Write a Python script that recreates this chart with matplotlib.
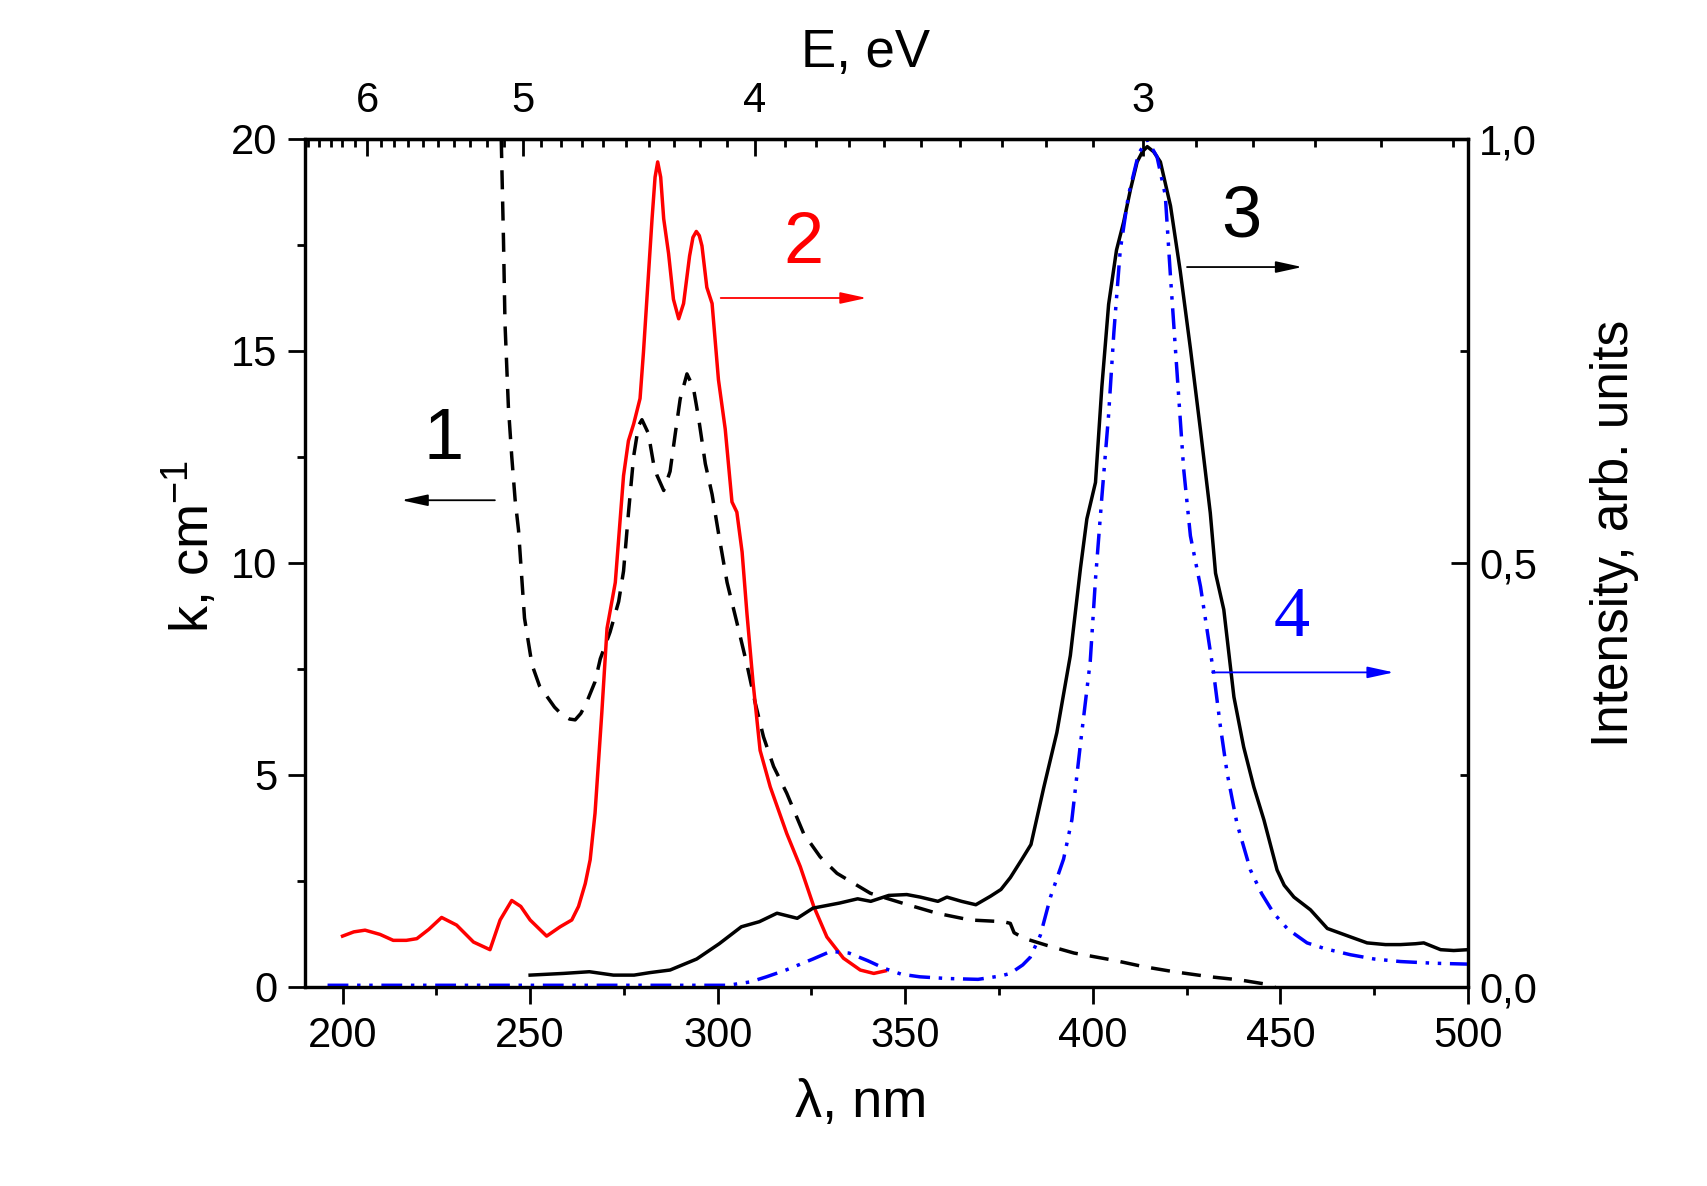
import numpy as np
import matplotlib
matplotlib.use('Agg')
import matplotlib.pyplot as plt
from matplotlib.ticker import MultipleLocator, FuncFormatter

plt.rcParams['font.family'] = ['Liberation Sans', 'DejaVu Sans']
plt.rcParams['mathtext.fontset'] = 'custom'
plt.rcParams['mathtext.rm'] = 'Liberation Sans'
plt.rcParams['mathtext.it'] = 'Liberation Sans:italic'

# 1 - absorption coefficient k (left axis), dashed
wl1 = [242.3, 242.9, 243.3, 244.2, 245.1, 246.0, 246.9, 248.5, 250.5, 252.5,
       254.5, 256.5, 258.5, 260.5, 262.0, 263.5, 265.0, 267.3, 268.7, 271.3,
       273.6, 274.9, 276.2, 277.6, 278.9, 279.8, 281.5, 282.9, 283.8, 285.6,
       287.3, 288.7, 290.0, 291.8, 293.5, 294.9, 296.7, 298.5, 300.2, 302.5,
       305.1, 307.8, 310.0, 312.2, 314.9, 318.4, 322.9, 327.3, 331.8, 340.7,
       349.5, 358.4, 367.3, 376.2, 378.0, 379.0, 381.6, 387.8, 395.0, 405.6,
       413.5, 421.6, 431.3, 439.3, 447.3, 448.5]
k1 = [20.0, 17.6, 15.65, 13.69, 12.51, 11.49, 10.78, 8.7, 7.6, 7.1,
      6.85, 6.6, 6.42, 6.32, 6.30, 6.45, 6.7, 7.2, 7.74, 8.37,
      9.09, 9.81, 11.17, 12.52, 13.24, 13.38, 13.06, 12.34, 12.07, 11.71,
      12.16, 13.06, 13.87, 14.46, 14.14, 13.42, 12.34, 11.62, 10.71, 9.54,
      8.6, 7.6, 6.7, 5.9, 5.2, 4.57, 3.62, 3.07, 2.68, 2.21,
      1.97, 1.74, 1.58, 1.54, 1.50, 1.28, 1.15, 0.98, 0.80, 0.63,
      0.48, 0.36, 0.24, 0.165, 0.05, 0.0]

# 2 - red, intensity (right axis)
wl2 = [200, 203, 206, 210, 213.5, 217, 219.8, 223, 226.4, 230.4,
       234.9, 239.3, 242, 245.1, 247.5, 250, 254.4, 258, 261.1, 262.9,
       264.7, 266, 267.3, 268.2, 269.1, 270.5, 272.7, 274.9, 276.2, 277.6,
       279.3, 280.2, 282.5, 283.3, 284.0, 284.8, 285.6, 286.9, 288.2, 289.6,
       290.9, 292.5, 293.4, 294.3, 295.1, 295.8, 297.1, 298.5, 300.2, 302.0,
       303.8, 305.1, 306.5, 307.8, 309.4, 311.3, 314, 318.4, 322, 325.6,
       329.1, 333.5, 338, 341.6, 344.7]
i2 = [0.060, 0.065, 0.067, 0.062, 0.055, 0.055, 0.057, 0.068, 0.082, 0.073,
      0.053, 0.044, 0.079, 0.102, 0.095, 0.079, 0.060, 0.071, 0.079, 0.095,
      0.122, 0.150, 0.205, 0.264, 0.323, 0.423, 0.477, 0.603, 0.644, 0.664,
      0.694, 0.748, 0.906, 0.955, 0.973, 0.955, 0.906, 0.865, 0.811, 0.788,
      0.806, 0.862, 0.884, 0.891, 0.886, 0.874, 0.825, 0.806, 0.716, 0.658,
      0.572, 0.560, 0.513, 0.440, 0.360, 0.279, 0.236, 0.181, 0.142, 0.095,
      0.059, 0.034, 0.020, 0.016, 0.019]

# 3 - black solid, intensity
wl3 = [250, 258.9, 265.8, 272.2, 277.7, 282, 287.3, 294.4, 300.4, 306.3,
       311.1, 315.8, 321.2, 325.4, 332.5, 337.3, 340.8, 345.6, 350.4, 354,
       358.7, 361.1, 365, 368.8, 372.7, 375.5, 378, 381, 383.5, 386.9,
       390.4, 394, 396.7, 398.4, 400.7, 402.4, 404.2, 406.3, 408.2, 410,
       411.8, 413.2, 414.5, 416.2, 418, 420.7, 423.3, 426, 428.7, 431.3,
       432.7, 434.9, 437.6, 440.2, 442.9, 445.6, 449.1, 451, 453.6, 458,
       462.5, 468.7, 473.1, 478, 482, 486, 488.2, 492.7, 496.2, 500]
i3 = [0.014, 0.016, 0.018, 0.014, 0.014, 0.017, 0.020, 0.033, 0.051, 0.071,
      0.077, 0.087, 0.081, 0.093, 0.099, 0.104, 0.101, 0.108, 0.109, 0.106,
      0.101, 0.106, 0.101, 0.097, 0.107, 0.115, 0.129, 0.150, 0.168, 0.235,
      0.300, 0.391, 0.494, 0.552, 0.595, 0.708, 0.805, 0.869, 0.902, 0.940,
      0.973, 0.985, 0.991, 0.985, 0.973, 0.921, 0.844, 0.753, 0.656, 0.559,
      0.488, 0.445, 0.342, 0.283, 0.236, 0.197, 0.138, 0.120, 0.106, 0.091,
      0.069, 0.059, 0.052, 0.050, 0.050, 0.051, 0.052, 0.044, 0.043, 0.044]

# 4 - blue dash-dot, intensity
wl4 = [196, 220, 242, 270, 302.7, 308.7, 313, 318.2, 325.4, 330.1,
       335, 340, 344.4, 349, 353.9, 361.1, 369.4, 375.4, 378, 381.3,
       383.3, 386, 388.7, 392.2, 394.4, 396.7, 399.3, 400.7, 402.4, 404.2,
       405.6, 407.3, 409.5, 412.2, 414.5, 417.1, 419.3, 420.7, 422.4, 424.2,
       426, 428.7, 431.3, 432.2, 434, 435.8, 438.4, 442, 445, 448.2,
       452, 457.1, 462, 468.7, 475, 482, 490.9, 499.8]
i4 = [0.002, 0.002, 0.002, 0.002, 0.002, 0.006, 0.012, 0.020, 0.033, 0.042,
      0.040, 0.031, 0.022, 0.015, 0.012, 0.010, 0.009, 0.013, 0.016, 0.026,
      0.035, 0.061, 0.106, 0.151, 0.197, 0.287, 0.384, 0.481, 0.578, 0.675,
      0.772, 0.869, 0.934, 0.983, 0.999, 0.979, 0.934, 0.837, 0.727, 0.611,
      0.532, 0.472, 0.396, 0.370, 0.307, 0.252, 0.193, 0.138, 0.110, 0.087,
      0.068, 0.052, 0.045, 0.038, 0.033, 0.030, 0.028, 0.027]

ev_ticks = [3, 4, 5, 6]

fig = plt.figure(figsize=(17.07, 11.86), dpi=100)
ax = fig.add_axes([0.1787, 0.1678, 0.6813, 0.715])
ax.plot(wl1, k1, color='black', lw=2.5, dashes=(5.5, 3.5))
ax.set_xlim(190, 500)
ax.set_ylim(0, 20)

ax2 = ax.twinx()
ax2.plot(wl2, i2, color='red', lw=2.5)
ax2.plot(wl3, i3, color='black', lw=2.5)
ax2.plot(wl4, i4, color='blue', lw=2.5, dashes=(6, 2.5, 1, 2.5, 1, 2.5))
ax2.set_ylim(0, 1)


def to_ev(x):
    x = np.asarray(x, dtype=float)
    safe = np.where(np.abs(x) < 1e-9, 1e-9, x)
    return 1239.84 / safe


secax = ax.secondary_xaxis('top', functions=(to_ev, to_ev))
secax.set_xticks(ev_ticks)
secax.set_xticklabels([str(v) for v in ev_ticks])
secax.xaxis.set_minor_locator(MultipleLocator(0.1))
secax.set_xlabel('E, eV', fontsize=38, labelpad=10)
secax.xaxis.label.set_x(0.482)

ax.xaxis.set_major_locator(MultipleLocator(50))
ax.xaxis.set_minor_locator(MultipleLocator(25))
ax.yaxis.set_major_locator(MultipleLocator(5))
ax.yaxis.set_minor_locator(MultipleLocator(2.5))
ax2.yaxis.set_major_locator(MultipleLocator(0.5))
ax2.yaxis.set_minor_locator(MultipleLocator(0.25))
ax2.yaxis.set_major_formatter(FuncFormatter(lambda v, p: f'{v:.1f}'.replace('.', ',')))

ax.tick_params(axis='x', which='both', direction='out', top=False, labelsize=30, pad=9, width=2)
ax.tick_params(axis='y', which='both', direction='out', labelsize=30, pad=8, width=2)
ax2.tick_params(axis='y', which='both', direction='in', labelsize=30, pad=8, width=2)
secax.tick_params(axis='x', which='both', direction='in', labelsize=30, pad=13, width=2)
for a in (ax, ax2, secax):
    a.tick_params(which='major', length=12)
    a.tick_params(which='minor', length=6)
for a in (ax, ax2):
    for s in a.spines.values():
        s.set_linewidth(2.3)
secax.spines['top'].set_linewidth(2.3)

ax.set_xlabel('λ, nm', fontsize=39, labelpad=16)
ax.xaxis.label.set_x(0.478)
ax.set_ylabel('k, cm$^{-1}$', fontsize=39, labelpad=8)
ax.yaxis.label.set_y(0.52)
ax2.set_ylabel('Intensity, arb. units', fontsize=37, labelpad=38)
ax2.yaxis.label.set_y(0.535)

# curve labels with arrows
arrow_kw = dict(arrowstyle='-|>,head_length=1.6,head_width=0.35', lw=1.3, shrinkA=0, shrinkB=0)
ax2.text(226.8, 0.645, '1', fontsize=52, color='black', ha='center', va='center')
ax2.annotate('', xy=(215.7, 0.574), xytext=(240.6, 0.574),
             arrowprops=dict(color='black', **arrow_kw))
ax2.text(322.8, 0.875, '2', fontsize=52, color='red', ha='center', va='center')
ax2.annotate('', xy=(339.7, 0.8125), xytext=(300.8, 0.8125),
             arrowprops=dict(color='red', **arrow_kw))
ax2.text(439.5, 0.907, '3', fontsize=52, color='black', ha='center', va='center')
ax2.annotate('', xy=(455.8, 0.849), xytext=(425.1, 0.849),
             arrowprops=dict(color='black', **arrow_kw))
ax2.text(452.9, 0.435, '4', fontsize=52, color='blue', ha='center', va='center',
         family=['Liberation Serif', 'DejaVu Serif'])
ax2.annotate('', xy=(480.2, 0.371), xytext=(431.8, 0.371),
             arrowprops=dict(color='blue', **arrow_kw))

fig.savefig('out.png', dpi=100)
